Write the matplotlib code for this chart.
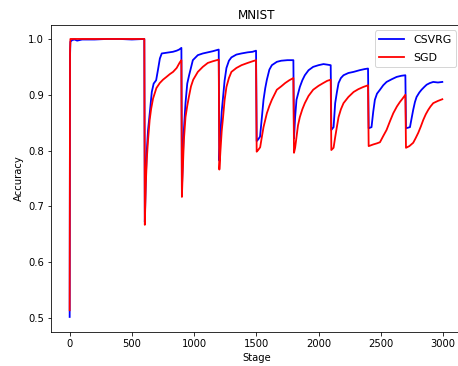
import matplotlib
matplotlib.use("Agg")
import matplotlib.pyplot as plt

# CSVRG (blue) samples
csvrg_stage = [0, 3, 6, 20, 40, 60, 100, 200, 300, 400, 500, 600,
               604, 612, 620, 630, 645, 660, 675, 695, 710, 725, 740, 770, 800, 830, 860, 880, 898,
               902, 910, 918, 931, 945, 960, 990, 1030, 1070, 1110, 1150, 1198,
               1203, 1212, 1222, 1233, 1245, 1260, 1280, 1300, 1340, 1380, 1430, 1470, 1498,
               1503, 1515, 1530, 1545, 1558, 1572, 1585, 1605, 1625, 1665, 1700, 1750, 1798,
               1803, 1812, 1823, 1850, 1870, 1890, 1920, 1957, 2000, 2040, 2070, 2098,
               2103, 2121, 2134, 2148, 2161, 2180, 2201, 2240, 2282, 2330, 2370, 2398,
               2403, 2426, 2440, 2453, 2470, 2494, 2520, 2547, 2590, 2628, 2665, 2698,
               2703, 2735, 2750, 2761, 2775, 2788, 2810, 2828, 2850, 2869, 2895, 2922, 2960, 2995]
csvrg_acc = [0.502, 0.97, 0.995, 0.998, 0.999, 0.997, 0.999, 0.999, 1.0, 1.0, 0.999, 1.0,
             0.672, 0.75, 0.80, 0.837, 0.87, 0.905, 0.92, 0.926, 0.945, 0.965, 0.974, 0.975, 0.976, 0.977, 0.979, 0.981, 0.984,
             0.73, 0.79, 0.837, 0.885, 0.92, 0.935, 0.962, 0.971, 0.974, 0.976, 0.978, 0.981,
             0.782, 0.83, 0.87, 0.896, 0.925, 0.948, 0.961, 0.967, 0.972, 0.974, 0.976, 0.977, 0.979,
             0.817, 0.82, 0.825, 0.86, 0.891, 0.912, 0.927, 0.945, 0.953, 0.959, 0.961, 0.962, 0.962,
             0.822, 0.86, 0.891, 0.914, 0.926, 0.935, 0.944, 0.95, 0.953, 0.955, 0.954, 0.953,
             0.837, 0.842, 0.885, 0.905, 0.921, 0.93, 0.935, 0.939, 0.941, 0.944, 0.946, 0.947,
             0.84, 0.842, 0.87, 0.891, 0.902, 0.909, 0.917, 0.923, 0.928, 0.932, 0.934, 0.935,
             0.84, 0.842, 0.86, 0.873, 0.887, 0.896, 0.904, 0.909, 0.914, 0.918, 0.921, 0.923, 0.922, 0.923]

# SGD (red) samples
sgd_stage = [0, 3, 6, 600,
             604, 612, 620, 630, 643, 655, 670, 697, 724, 750, 778, 805, 831, 860, 885, 898,
             902, 910, 918, 931, 945, 958, 975, 993, 1030, 1070, 1110, 1150, 1198,
             1203, 1212, 1222, 1233, 1245, 1260, 1280, 1300, 1340, 1381, 1430, 1470, 1498,
             1503, 1515, 1531, 1545, 1558, 1572, 1585, 1605, 1625, 1665, 1700, 1732, 1765, 1798,
             1803, 1812, 1823, 1835, 1850, 1870, 1890, 1920, 1957, 2000, 2038, 2070, 2098,
             2103, 2121, 2134, 2148, 2161, 2180, 2201, 2240, 2282, 2320, 2360, 2398,
             2403, 2440, 2470, 2494, 2520, 2547, 2575, 2601, 2630, 2654, 2675, 2698,
             2703, 2730, 2761, 2780, 2802, 2822, 2842, 2862, 2882, 2900, 2922, 2960, 2995]
sgd_acc = [0.514, 0.98, 1.0, 1.0,
           0.667, 0.74, 0.785, 0.819, 0.855, 0.875, 0.893, 0.912, 0.921, 0.927, 0.932, 0.937, 0.941, 0.948, 0.958, 0.962,
           0.717, 0.77, 0.819, 0.86, 0.88, 0.896, 0.915, 0.927, 0.941, 0.95, 0.957, 0.96, 0.963,
           0.766, 0.8, 0.835, 0.86, 0.89, 0.914, 0.93, 0.941, 0.948, 0.953, 0.957, 0.96, 0.962,
           0.798, 0.801, 0.806, 0.825, 0.842, 0.855, 0.867, 0.88, 0.891, 0.909, 0.915, 0.921, 0.926, 0.93,
           0.796, 0.805, 0.824, 0.845, 0.86, 0.874, 0.885, 0.898, 0.909, 0.916, 0.921, 0.925, 0.927,
           0.801, 0.805, 0.824, 0.843, 0.86, 0.874, 0.885, 0.896, 0.905, 0.91, 0.914, 0.917,
           0.808, 0.811, 0.813, 0.815, 0.826, 0.837, 0.853, 0.867, 0.879, 0.887, 0.893, 0.9,
           0.805, 0.808, 0.814, 0.822, 0.832, 0.843, 0.855, 0.865, 0.873, 0.879, 0.885, 0.889, 0.892]

series_labels = ["CSVRG", "SGD"]
x_ticks = [0, 500, 1000, 1500, 2000, 2500, 3000]
y_ticks = [0.5, 0.6, 0.7, 0.8, 0.9, 1.0]

fig = plt.figure(figsize=(458 / 72, 366 / 72), dpi=72)
ax = fig.add_axes([51 / 458, 0.0929, 410.6 / 458, 0.8388])
ax.plot(csvrg_stage, csvrg_acc, color="blue", lw=1.8, label=series_labels[0])
ax.plot(sgd_stage, sgd_acc, color="red", lw=1.8, label=series_labels[1])
ax.set_xlim(-150, 3150)
ax.set_ylim(0.475, 1.025)
ax.set_xticks(x_ticks)
ax.set_yticks(y_ticks)
ax.spines["right"].set_visible(False)
ax.set_title("MNIST")
ax.set_xlabel("Stage")
ax.set_ylabel("Accuracy")
ax.legend(loc="upper right", fontsize=11, labelspacing=0.7, handlelength=2.2,
          handletextpad=0.9)
fig.savefig("out.png", dpi=72)
